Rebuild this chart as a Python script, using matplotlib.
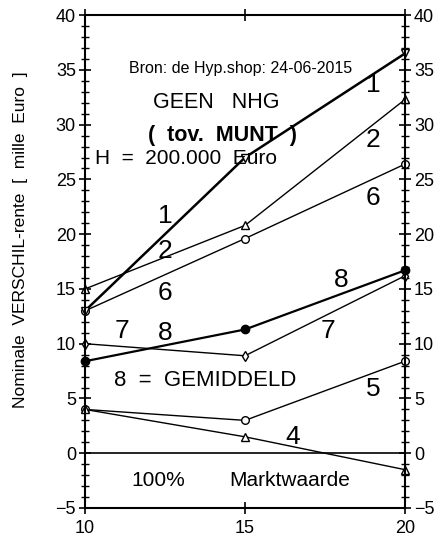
import matplotlib
matplotlib.use("Agg")
import matplotlib.pyplot as plt
import matplotlib.ticker as ticker

plt.rcParams['font.family'] = ['Liberation Sans', 'DejaVu Sans']

# looptijd (jaren)
years = [10, 15, 20]

# nominale verschil-rente per scenario [mille Euro]
s1 = [13.0, 27.0, 36.5]
s2 = [15.0, 20.8, 32.3]
s4 = [4.0, 1.5, -1.5]
s5 = [4.0, 3.0, 8.4]
s6 = [13.0, 19.6, 26.4]
s7 = [10.0, 8.9, 16.2]
s8 = [8.4, 11.3, 16.7]  # gemiddeld

# curve labels: (text, x, y)
curve_labels = [
    ("1", 12.5, 21.7), ("2", 12.5, 18.5), ("6", 12.5, 14.6),
    ("7", 11.15, 11.2), ("8", 12.5, 11.0),
    ("1", 19.0, 33.6), ("2", 19.0, 28.6), ("6", 19.0, 23.3),
    ("8", 18.0, 15.8), ("7", 17.6, 11.2), ("5", 19.0, 5.9), ("4", 16.5, 1.45),
]

fig = plt.figure(figsize=(4.41, 5.41), dpi=100)
ax = fig.add_axes([0.1927, 0.061, 0.7256, 0.911])

mk = dict(markerfacecolor='white', markeredgecolor='black', markersize=5.5,
          markeredgewidth=1, clip_on=False)
ax.plot(years, s2, color='black', lw=1, marker='^', **mk)
ax.plot(years, s6, color='black', lw=1, marker='o', **mk)
ax.plot(years, s5, color='black', lw=1, marker='o', **mk)
ax.plot(years, s4, color='black', lw=1, marker='^', **mk)
ax.plot(years, s7, color='black', lw=1, marker='d', **dict(mk, markersize=5))
ax.plot(years, s8, color='black', lw=1.6, marker='o', markersize=6, markerfacecolor='black',
        markeredgecolor='black', clip_on=False)
ax.plot(years, s1, color='black', lw=1.8, marker='v', **mk)

ax.axhline(0, color='black', lw=1.2)

for txt, x, y in curve_labels:
    ax.text(x, y, txt, fontsize=19, ha='center', va='center')

ax.text(14.85, 35.1, "Bron: de Hyp.shop: 24-06-2015", fontsize=11.5, ha='center', va='center')
ax.text(14.1, 32.0, "GEEN   NHG", fontsize=15.5, ha='center', va='center')
ax.text(14.3, 29.0, "(  tov.  MUNT  )", fontsize=15.5, fontweight='bold', ha='center', va='center')
ax.text(10.3, 26.9, "H  =  200.000  Euro", fontsize=15, ha='left', va='center')
ax.text(13.75, 6.66, "8  =  GEMIDDELD", fontsize=16, ha='center', va='center')
ax.text(12.3, -2.5, "100%", fontsize=15, ha='center', va='center')
ax.text(16.4, -2.5, "Marktwaarde", fontsize=15, ha='center', va='center')

ax.set_xlim(10, 20)
ax.set_ylim(-5, 40)
ax.xaxis.set_major_locator(ticker.FixedLocator([10, 15, 20]))
ax.yaxis.set_major_locator(ticker.MultipleLocator(5))
ax.yaxis.set_minor_locator(ticker.MultipleLocator(1))

ax.tick_params(axis='y', which='major', direction='inout', length=9, width=1.2,
               labelsize=13, left=True, right=True, labelleft=True, labelright=True, pad=2)
ax.tick_params(axis='y', which='minor', direction='inout', length=6, width=1,
               left=True, right=True)
ax.tick_params(axis='x', which='major', direction='inout', length=9, width=1.2,
               labelsize=13, top=True, bottom=True, pad=4)
ax.set_xticklabels(["10", "15", "20"])

for sp in ax.spines.values():
    sp.set_linewidth(1.5)

fig.text(0.047, 1 - 240 / 541, "Nominale  VERSCHIL-rente  [  mille  Euro  ]",
         rotation=90, fontsize=12.5, ha='center', va='center')

fig.savefig("out.png", dpi=100)
